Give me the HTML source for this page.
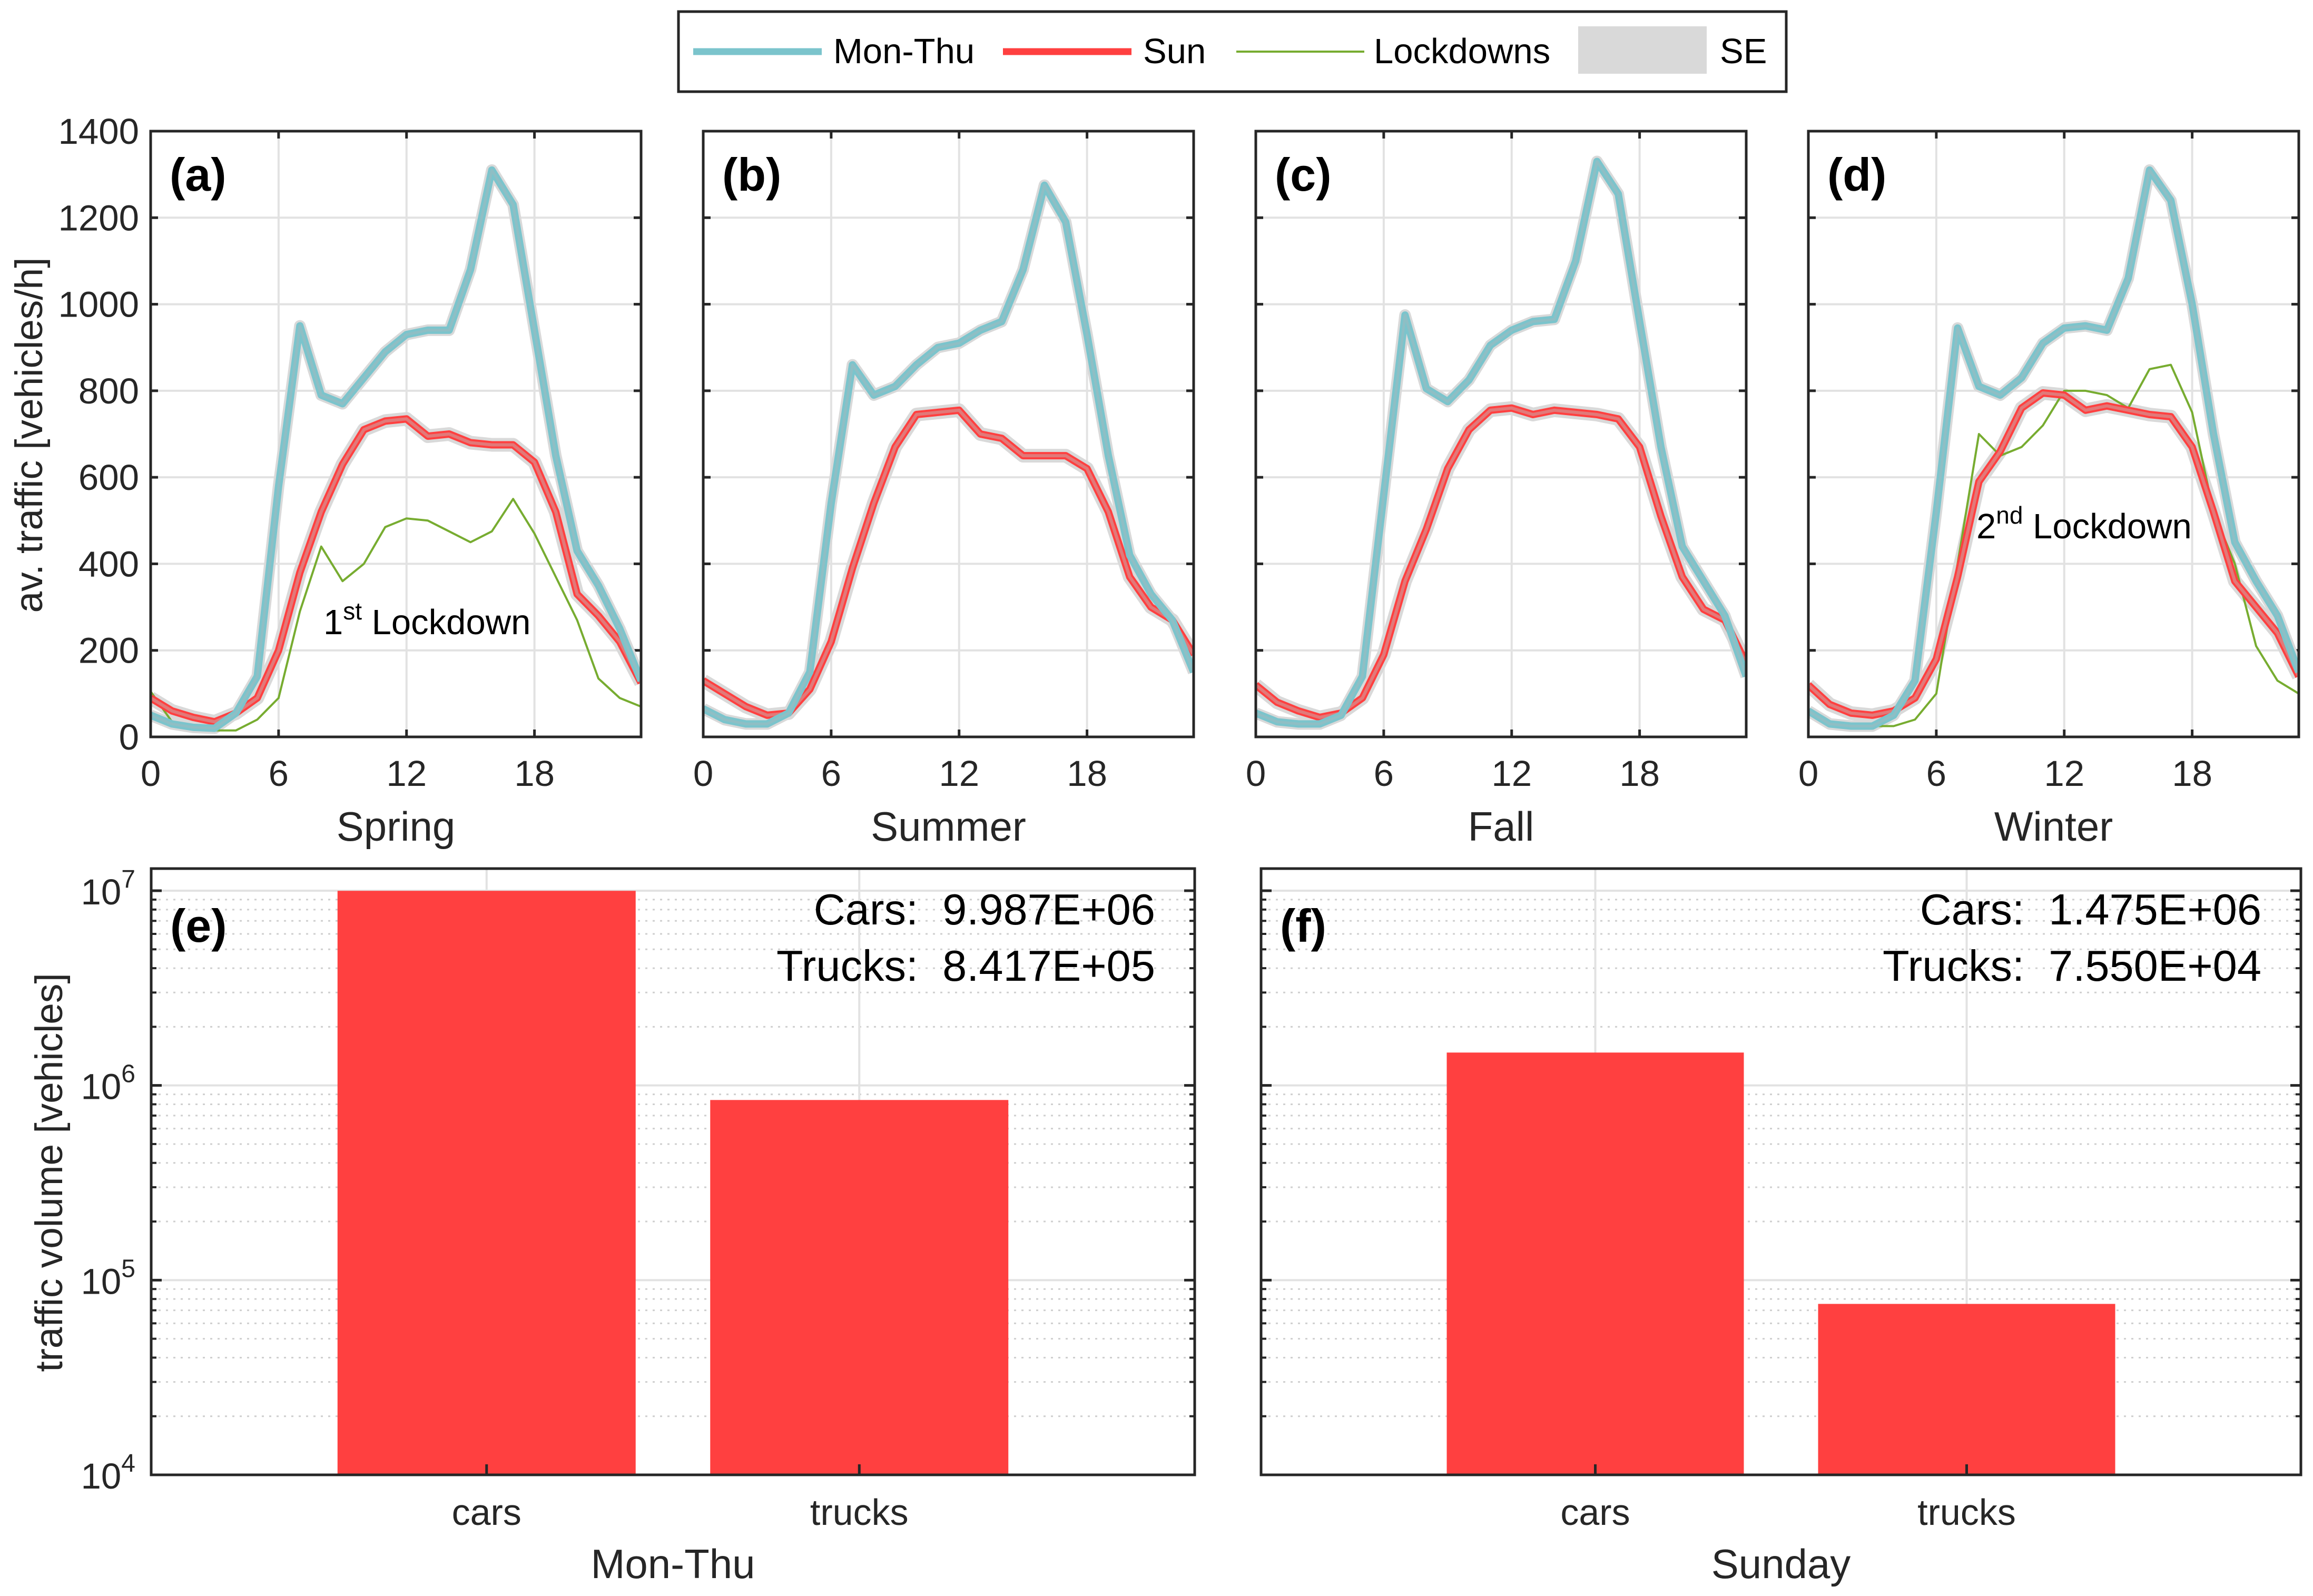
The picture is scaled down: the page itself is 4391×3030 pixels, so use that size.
<!DOCTYPE html>
<html><head><meta charset="utf-8">
<style>
html,body{margin:0;padding:0;background:#fff;}
svg{display:block;font-family:"Liberation Sans",Arial,sans-serif;}
</style></head>
<body>
<svg id="fig" width="4391" height="3030" viewBox="0 0 4391 3030" xmlns="http://www.w3.org/2000/svg">
<rect width="4391" height="3030" fill="#fff"/>
<g id="legend">
  <rect x="1288" y="22" width="2103" height="152" fill="#fff" stroke="#262626" stroke-width="5"/>
  <line x1="1316" y1="98" x2="1560" y2="98" stroke="#7BC4CC" stroke-width="13"/>
  <text x="1582" y="120" font-size="67" fill="#000">Mon-Thu</text>
  <line x1="1904" y1="98" x2="2148" y2="98" stroke="#FF4040" stroke-width="13"/>
  <text x="2170" y="120" font-size="67" fill="#000">Sun</text>
  <line x1="2347" y1="98" x2="2590" y2="98" stroke="#77AC30" stroke-width="4"/>
  <text x="2608" y="120" font-size="67" fill="#000">Lockdowns</text>
  <rect x="2996" y="50" width="244" height="90" fill="#d9d9d9"/>
  <text x="3265" y="120" font-size="67" fill="#000">SE</text>
</g>
</svg>
<script>
const hours = [0,1,2,3,4,5,6,7,8,9,10,11,12,13,14,15,16,17,18,19,20,21,22,23];
const springMonThu = [50,30,22,20,55,140,580,950,790,770,830,890,930,940,940,1080,1310,1230,940,650,430,350,250,130];
const springSun = [90,60,45,35,55,90,200,380,520,630,710,730,735,695,700,680,675,675,635,520,330,280,220,125];
const springLock = [105,35,20,15,15,40,90,290,440,360,400,485,505,500,475,450,475,550,470,370,270,135,90,70];
const summerMonThu = [65,40,30,30,55,150,540,860,790,810,860,900,910,940,960,1080,1275,1190,930,650,420,330,270,150];
const summerSun = [130,100,70,50,55,110,220,390,540,670,745,750,755,700,690,650,650,650,620,520,370,300,270,190];
const fallMonThu = [55,35,30,30,50,140,560,975,805,775,825,905,940,960,965,1100,1330,1255,960,670,440,360,280,140];
const fallSun = [120,80,60,45,55,90,190,360,480,620,710,755,760,745,755,750,745,735,670,510,370,295,270,170];
const winterMonThu = [60,30,25,25,50,130,520,945,810,790,830,910,945,950,940,1060,1310,1240,1000,700,450,360,280,150];
const winterSun = [120,75,55,50,60,90,180,370,590,660,760,795,790,755,765,755,745,740,670,520,360,300,240,140];
const winterLock = [60,35,25,25,25,40,100,400,700,650,670,720,800,800,790,760,850,860,750,520,400,210,130,100];
const yTicks = [0,200,400,600,800,1000,1200,1400];
const xTicks = [0,6,12,18];
const barCategories = ['cars','trucks'];
const monThuTotals = [9.987e6, 8.417e5];
const sundayTotals = [1.475e6, 7.55e4];
const logTicks = [4,5,6,7];

const NS='http://www.w3.org/2000/svg';
const svg=document.getElementById('fig');
function mk(tag,attrs,parent){const e=document.createElementNS(NS,tag);for(const k in attrs)e.setAttribute(k,attrs[k]);(parent||svg).appendChild(e);return e;}

const panels=[
 {id:'a',label:'(a)',name:'Spring',left:286,mon:springMonThu,sun:springSun,lock:springLock,ann:'1',sup:'st',ax:614,ay:1204},
 {id:'b',label:'(b)',name:'Summer',left:1335,mon:summerMonThu,sun:summerSun},
 {id:'c',label:'(c)',name:'Fall',left:2384,mon:fallMonThu,sun:fallSun},
 {id:'d',label:'(d)',name:'Winter',left:3433,mon:winterMonThu,sun:winterSun,lock:winterLock,ann:'2',sup:'nd',ax:3752,ay:1022}
];
const TOP=249,BOT=1399,W=931;
panels.forEach((p,pi)=>{
  const g=mk('g',{});
  
  
  const xs=h=>p.left+h/23*W;
  const ys=v=>BOT-v/1400*(BOT-TOP);
  const cid='clip'+p.id;
  const cp=mk('clipPath',{id:cid},g);mk('rect',{x:p.left,y:TOP,width:W,height:BOT-TOP},cp);
  yTicks.forEach(t=>{
    if(t>0&&t<1400){const l=mk('line',{x1:p.left,x2:p.left+W,y1:ys(t),y2:ys(t),stroke:'#e2e2e2','stroke-width':4},g);
    }
    mk('line',{x1:p.left,x2:p.left+14,y1:ys(t),y2:ys(t),stroke:'#262626','stroke-width':5},g);
    mk('line',{x1:p.left+W-14,x2:p.left+W,y1:ys(t),y2:ys(t),stroke:'#262626','stroke-width':5},g);
    if(pi===0){const tx=mk('text',{x:p.left-22,y:ys(t)+24,'font-size':69,'text-anchor':'end',fill:'#262626'},g);tx.textContent=t;
      }
  });
  xTicks.forEach(t=>{
    if(t>0){const l=mk('line',{x1:xs(t),x2:xs(t),y1:TOP,y2:BOT,stroke:'#e2e2e2','stroke-width':4},g);
    }
    mk('line',{x1:xs(t),x2:xs(t),y1:BOT-14,y2:BOT,stroke:'#262626','stroke-width':5},g);
    mk('line',{x1:xs(t),x2:xs(t),y1:TOP,y2:TOP+14,stroke:'#262626','stroke-width':5},g);
    const tx=mk('text',{x:xs(t),y:1492,'font-size':69,'text-anchor':'middle',fill:'#262626'},g);tx.textContent=t;
    
  });
  const pts=a=>a.map((v,i)=>xs(hours[i]).toFixed(1)+','+ys(v).toFixed(1)).join(' ');
  const lg=mk('g',{'clip-path':'url(#'+cid+')'},g);
  let s=mk('polyline',{points:pts(p.mon),fill:'none',stroke:'#d9d9d9','stroke-width':22,'stroke-linejoin':'round'},lg);
  
  s=mk('polyline',{points:pts(p.sun),fill:'none',stroke:'#d9d9d9','stroke-width':26,'stroke-linejoin':'round'},lg);
  
  if(p.lock){const l=mk('polyline',{points:pts(p.lock),fill:'none',stroke:'#77AC30','stroke-width':4,'stroke-linejoin':'round'},lg);
    }
  let l=mk('polyline',{points:pts(p.sun),fill:'none',stroke:'#FF4040','stroke-width':14,'stroke-linejoin':'round'},lg);
  
  mk('polyline',{points:pts(p.sun),fill:'none',stroke:'#c9a8a8','stroke-width':6,'stroke-opacity':0.55,'stroke-linejoin':'round'},lg);
  l=mk('polyline',{points:pts(p.mon),fill:'none',stroke:'#7BC4CC','stroke-width':14,'stroke-linejoin':'round'},lg);
  
  mk('polyline',{points:pts(p.mon),fill:'none',stroke:'#a9b9ba','stroke-width':5,'stroke-opacity':0.45,'stroke-linejoin':'round'},lg);
  const fr=mk('rect',{x:p.left,y:TOP,width:W,height:BOT-TOP,fill:'none',stroke:'#262626','stroke-width':5},g);
  
  let t=mk('text',{x:p.left+36,y:362,'font-size':88,'font-weight':'bold',fill:'#000'},g);t.textContent=p.label;
  
  t=mk('text',{x:p.left+W/2,y:1596,'font-size':78,'text-anchor':'middle',fill:'#262626'},g);t.textContent=p.name;
  
  if(p.ann){
    t=mk('text',{x:p.ax,y:p.ay,'font-size':67,fill:'#000'},g);
    
    t.innerHTML=p.ann+'<tspan dy="-28" font-size="46">'+p.sup+'</tspan><tspan dy="28"> Lockdown</tspan>';
  }
});
let yl=mk('text',{x:0,y:0,'font-size':73,'text-anchor':'middle',fill:'#262626',transform:'translate(80,826) rotate(-90)'});
yl.textContent='av. traffic [vehicles/h]';


const bars=[
 {id:'e',label:'(e)',name:'Mon-Thu',left:287,right:2268,vals:monThuTotals,ann:['9.987E+06','8.417E+05']},
 {id:'f',label:'(f)',name:'Sunday',left:2394,right:4368,vals:sundayTotals,ann:['1.475E+06','7.550E+04']}
];
const BT=1649,BB=2800,LMIN=4,LMAX=7+42/369.7;
bars.forEach((b,bi)=>{
  const g=mk('g',{});
  
  
  const xs=x=>b.left+(x-0.1)/2.8*(b.right-b.left);
  const ys=v=>BB-(Math.log10(v)-LMIN)/(LMAX-LMIN)*(BB-BT);
  logTicks.forEach((e,ei)=>{
    const v=Math.pow(10,e);
    if(e>4){const l=mk('line',{x1:b.left,x2:b.right,y1:ys(v),y2:ys(v),stroke:'#e2e2e2','stroke-width':4},g);
      }
    mk('line',{x1:b.left,x2:b.left+20,y1:ys(v),y2:ys(v),stroke:'#262626','stroke-width':5},g);
    mk('line',{x1:b.right-20,x2:b.right,y1:ys(v),y2:ys(v),stroke:'#262626','stroke-width':5},g);
    if(e<7){for(let m=2;m<=9;m++){const y=ys(m*v);
      const l=mk('line',{x1:b.left,x2:b.right,y1:y,y2:y,stroke:'#cfcfcf','stroke-width':3,'stroke-dasharray':'4 10'},g);
      
      mk('line',{x1:b.left,x2:b.left+10,y1:y,y2:y,stroke:'#262626','stroke-width':4},g);
      mk('line',{x1:b.right-10,x2:b.right,y1:y,y2:y,stroke:'#262626','stroke-width':4},g);}}
    if(bi===0){const t=mk('text',{x:b.left-30,y:ys(v)+26,'font-size':69,'text-anchor':'end',fill:'#262626'},g);
      t.innerHTML='10<tspan dy="-32" font-size="48">'+e+'</tspan>';
      }
  });
  barCategories.forEach((c,i)=>{
    const x=xs(i+1);
    mk('line',{x1:x,x2:x,y1:BT,y2:BB,stroke:'#e2e2e2','stroke-width':4},g);
    const r=mk('rect',{x:xs(i+1-0.4),y:ys(b.vals[i]),width:xs(i+1.4)-xs(i+0.6),height:BB-ys(b.vals[i]),fill:'#FF4040'},g);
    
    mk('line',{x1:x,x2:x,y1:BB-20,y2:BB,stroke:'#262626','stroke-width':5},g);
    const t=mk('text',{x:x,y:2895,'font-size':70,'text-anchor':'middle',fill:'#262626'},g);t.textContent=c;
    
  });
  const fr=mk('rect',{x:b.left,y:BT,width:b.right-b.left,height:BB-BT,fill:'none',stroke:'#262626','stroke-width':5},g);
  
  let t=mk('text',{x:b.left+36,y:1788,'font-size':88,'font-weight':'bold',fill:'#000'},g);t.textContent=b.label;
  
  t=mk('text',{x:b.right-75,y:1755,'font-size':83,'text-anchor':'end',fill:'#000'},g);t.textContent='Cars:\u00a0\u00a0'+b.ann[0];
  
  t=mk('text',{x:b.right-75,y:1862,'font-size':83,'text-anchor':'end',fill:'#000'},g);t.textContent='Trucks:\u00a0\u00a0'+b.ann[1];
  
  t=mk('text',{x:(b.left+b.right)/2,y:2996,'font-size':78,'text-anchor':'middle',fill:'#262626'},g);t.textContent=b.name;
  
});
yl=mk('text',{x:0,y:0,'font-size':73,'text-anchor':'middle',fill:'#262626',transform:'translate(118,2226) rotate(-90)'});
yl.textContent='traffic volume [vehicles]';

</script>
</body></html>
